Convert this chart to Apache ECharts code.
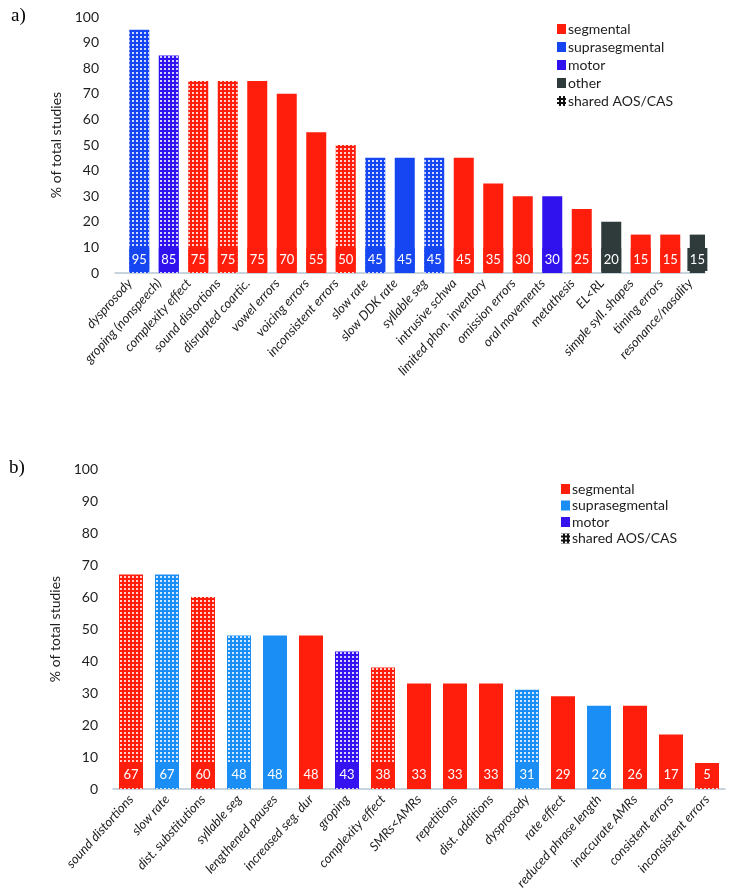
<!DOCTYPE html>
<html><head><meta charset="utf-8">
<script src="https://cdn.jsdelivr.net/npm/echarts@6/dist/echarts.min.js"></script>
<style>html,body{margin:0;padding:0;background:#fff}#c{width:733px;height:891px}</style>
</head><body><div id="c"></div>
<script>
// ---------- data: chart a ----------
const categoriesA = ['dysprosody','groping (nonspeech)','complexity effect','sound distortions','disrupted coartic.','vowel errors','voicing errors','inconsistent errors','slow rate','slow DDK rate','syllable seg','intrusive schwa','limited phon. inventory','omission errors','oral movements','metathesis','EL<RL','simple syll. shapes','timing errors','resonance/nasality'];
const valuesA = [95,85,75,75,75,70,55,50,45,45,45,45,35,30,30,25,20,15,15,15];
const typesA = ['suprasegmental','motor','segmental','segmental','segmental','segmental','segmental','segmental','suprasegmental','suprasegmental','suprasegmental','segmental','segmental','segmental','motor','segmental','other','segmental','segmental','other'];
const sharedA = [1,1,1,1,0,0,0,1,1,0,1,0,0,0,0,0,0,0,0,0];
const legendA = ['segmental','suprasegmental','motor','other','shared AOS/CAS'];

// ---------- data: chart b ----------
const categoriesB = ['sound distortions','slow rate','dist. substitutions','syllable seg','lengthened pauses','increased seg. dur','groping','complexity effect','SMRs<AMRs','repetitions','dist. additions','dysprosody','rate effect','reduced phrase length','inaccurate AMRs','consistent errors','inconsistent errors'];
const valuesB = [67,67,60,48,48,48,43,38,33,33,33,31,29,26,26,17,5];
const typesB = ['segmental','suprasegmental','segmental','suprasegmental','suprasegmental','segmental','motor','segmental','segmental','segmental','segmental','suprasegmental','segmental','suprasegmental','segmental','segmental','segmental'];
const sharedB = [1,1,1,1,0,0,1,1,0,0,0,1,0,0,0,0,1];
const legendB = ['segmental','suprasegmental','motor','shared AOS/CAS'];

const yTickValues = [0,10,20,30,40,50,60,70,80,90,100];

// ---------- styles ----------
const colorsA = {segmental:'#ff1e0c', suprasegmental:'#1646f2', motor:'#2f12ee', other:'#2f3b3b'};
const colorsB = {segmental:'#ff1e0c', suprasegmental:'#1a8ef5', motor:'#3512f0'};
const FONT = 'Lato';
const TXT = '#1e1e1e';
const decal = {symbol:'rect', symbolSize:1, color:'rgba(255,255,255,0.8)', dashArrayX:[1.3,1.9], dashArrayY:[1.3,1.9], rotation:0};

function buildSeries(vals, types, shared, colors, axisIdx, barW, boxH){
  return Object.keys(colors).map(t => ({
    type:'bar', name:t, xAxisIndex:axisIdx, yAxisIndex:axisIdx,
    barWidth:barW, barGap:'-100%',
    itemStyle:{color:colors[t]},
    label:{show:true, position:'insideBottom', distance:2, formatter:'{c}', color:'#fff',
      fontFamily:FONT, fontSize:13, backgroundColor:colors[t], width:barW, height:boxH,
      lineHeight:boxH, align:'center', padding:0},
    data: vals.map((v,i) => {
      if (types[i] !== t) return '-';
      return shared[i] ? {value:v, itemStyle:{decal:decal}} : v;
    })
  }));
}

function legendItems(names, colors){
  return names.map(n => n === 'shared AOS/CAS'
    ? {name:n, itemStyle:{color:'#111', decal:{symbol:'rect', symbolSize:1, color:'#fff', dashArrayX:[1.5,1.5], dashArrayY:[1.5,1.5]}}}
    : {name:n, itemStyle:{color:colors[n]}});
}

const xAxisCommon = (cats, idx) => ({
  type:'category', gridIndex:idx, data:cats,
  axisTick:{show:false},
  axisLine:{lineStyle:{color:'#b6c6d2', width:1.5}},
  axisLabel:{interval:0, rotate:48, fontStyle:'italic', fontFamily:FONT, fontSize:13, color:TXT, margin:8}
});
const yAxisCommon = (idx, margin) => ({
  type:'value', gridIndex:idx, min:yTickValues[0], max:yTickValues[yTickValues.length-1], interval:yTickValues[1]-yTickValues[0],
  splitLine:{show:false}, axisLine:{show:false}, axisTick:{show:false},
  axisLabel:{fontFamily:FONT, fontSize:14, color:TXT, margin:margin},
  name:'% of total studies', nameLocation:'middle', nameGap:43, nameRotate:90,
  nameTextStyle:{fontFamily:FONT, fontSize:14, color:TXT}
});

const chart = echarts.init(document.getElementById('c'), null, {renderer:'canvas'});
chart.setOption({
  animation:false,
  backgroundColor:'#fff',
  title:[
    {text:'a)', left:6, top:2, textStyle:{fontFamily:'Liberation Serif', fontSize:19, fontWeight:'normal', color:'#000'}},
    {text:'b)', left:4, top:454, textStyle:{fontFamily:'Liberation Serif', fontSize:19, fontWeight:'normal', color:'#000'}}
  ],
  legend:[
    {data:legendItems(legendA, colorsA), orient:'vertical', left:552, top:17, itemWidth:9, itemHeight:10, itemGap:4,
      icon:'rect', selectedMode:false, textStyle:{fontFamily:FONT, fontSize:14, color:TXT, padding:[0,0,0,-3]}},
    {data:legendItems(legendB, colorsB), orient:'vertical', left:556, top:477, itemWidth:9, itemHeight:10, itemGap:2.5,
      icon:'rect', selectedMode:false, textStyle:{fontFamily:FONT, fontSize:14, color:TXT, padding:[0,0,0,-3]}}
  ],
  grid:[
    {left:115, right:28, top:17, height:256, containLabel:false, outerBoundsMode:'none'},
    {left:113, right:8, top:469, height:320, containLabel:false, outerBoundsMode:'none'}
  ],
  xAxis:[xAxisCommon(categoriesA,0), xAxisCommon(categoriesB,1)],
  yAxis:[yAxisCommon(0,16), yAxisCommon(1,15)],
  series:[
    ...buildSeries(valuesA, typesA, sharedA, colorsA, 0, 20, 23),
    ...buildSeries(valuesB, typesB, sharedB, colorsB, 1, 24, 24),
    {type:'bar', name:'shared AOS/CAS', xAxisIndex:0, yAxisIndex:0, data:[], itemStyle:{color:'#111'}}
  ]
});
</script></body></html>
